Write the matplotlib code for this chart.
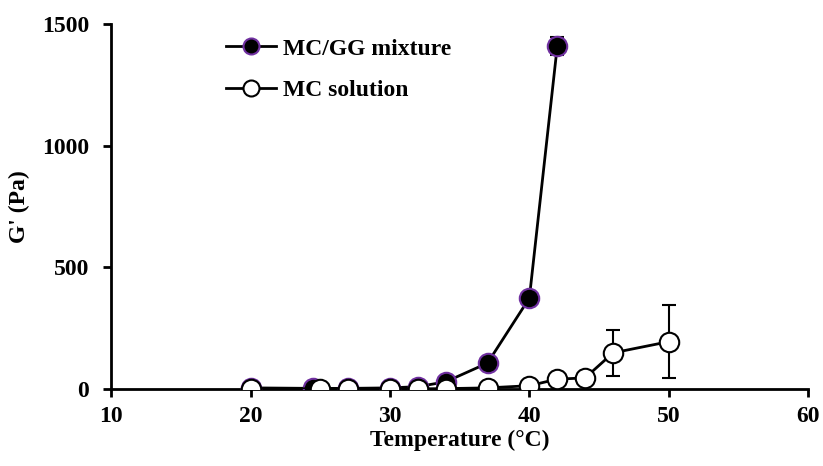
import numpy as np
import matplotlib.pyplot as plt
from matplotlib.lines import Line2D

# storage modulus vs temperature
temp_mix = [20, 24.5, 27, 30, 32, 34, 37, 40, 42]
g_mix = [5, 3, 3, 5, 10, 30, 107, 374, 1409]
err_mix = [2, 2, 2, 2, 3, 6, 26, 15, 37]

temp_mc = [20, 25, 27, 30, 32, 34, 37, 40, 42, 44, 46, 50]
g_mc = [2, 1, 1, 1, 1, 2, 5, 14, 41, 46, 149, 195]
err_mc = [1, 1, 1, 1, 1, 1, 2, 5, 8, 8, 94, 150]

plt.rcParams['font.family'] = ['Liberation Serif', 'DejaVu Serif']
plt.rcParams['font.weight'] = 'bold'

fig = plt.figure(figsize=(8.23, 4.66), dpi=100)
ax = fig.add_axes([0.135, 0.165, 0.847, 0.783])

mix_style = dict(color='black', lw=2, marker='o', ms=14, mfc='black',
                 mec='#7030A0', mew=1.5)
mc_style = dict(color='black', lw=2, marker='o', ms=14, mfc='white',
                mec='black', mew=1.5)

ax.errorbar(temp_mix, g_mix, yerr=err_mix, capsize=5, elinewidth=1.5,
            capthick=1.5, zorder=3, **mix_style)
ax.errorbar(temp_mc, g_mc, yerr=err_mc, capsize=5, elinewidth=1.5,
            capthick=1.5, zorder=4, **mc_style)

ax.set_xlim(10, 60)
ax.set_ylim(0, 1500)
ax.set_xticks([10, 20, 30, 40, 50, 60])
ax.set_yticks([0, 500, 1000, 1500])

for s in ['top', 'right']:
    ax.spines[s].set_visible(False)
for s in ['left', 'bottom']:
    ax.spines[s].set_linewidth(2)
    ax.spines[s].set_clip_on(False)
ax.tick_params(direction='out', length=6, width=2, labelsize=17)
ax.tick_params(axis='y', pad=10)
ax.tick_params(axis='x', pad=6)
for lbl in ax.get_xticklabels() + ax.get_yticklabels():
    lbl.set_fontweight('bold')

ax.set_xlabel('Temperature (°C)', fontsize=17, fontweight='bold', labelpad=2)
ax.set_ylabel("G' (Pa)", fontsize=17, fontweight='bold', labelpad=8)

# legend handles without error bars, slightly smaller markers
handles = [Line2D([], [], **{**mix_style, 'ms': 11.5}),
           Line2D([], [], **{**mc_style, 'ms': 11.5})]
ax.legend(handles, ['MC/GG mixture', 'MC solution'], loc='upper left',
          bbox_to_anchor=(0.135, 1.02), frameon=False, handlelength=2.1,
          handletextpad=0.3, labelspacing=0.85,
          prop={'weight': 'bold', 'size': 17})

fig.savefig('out.png', dpi=100)
